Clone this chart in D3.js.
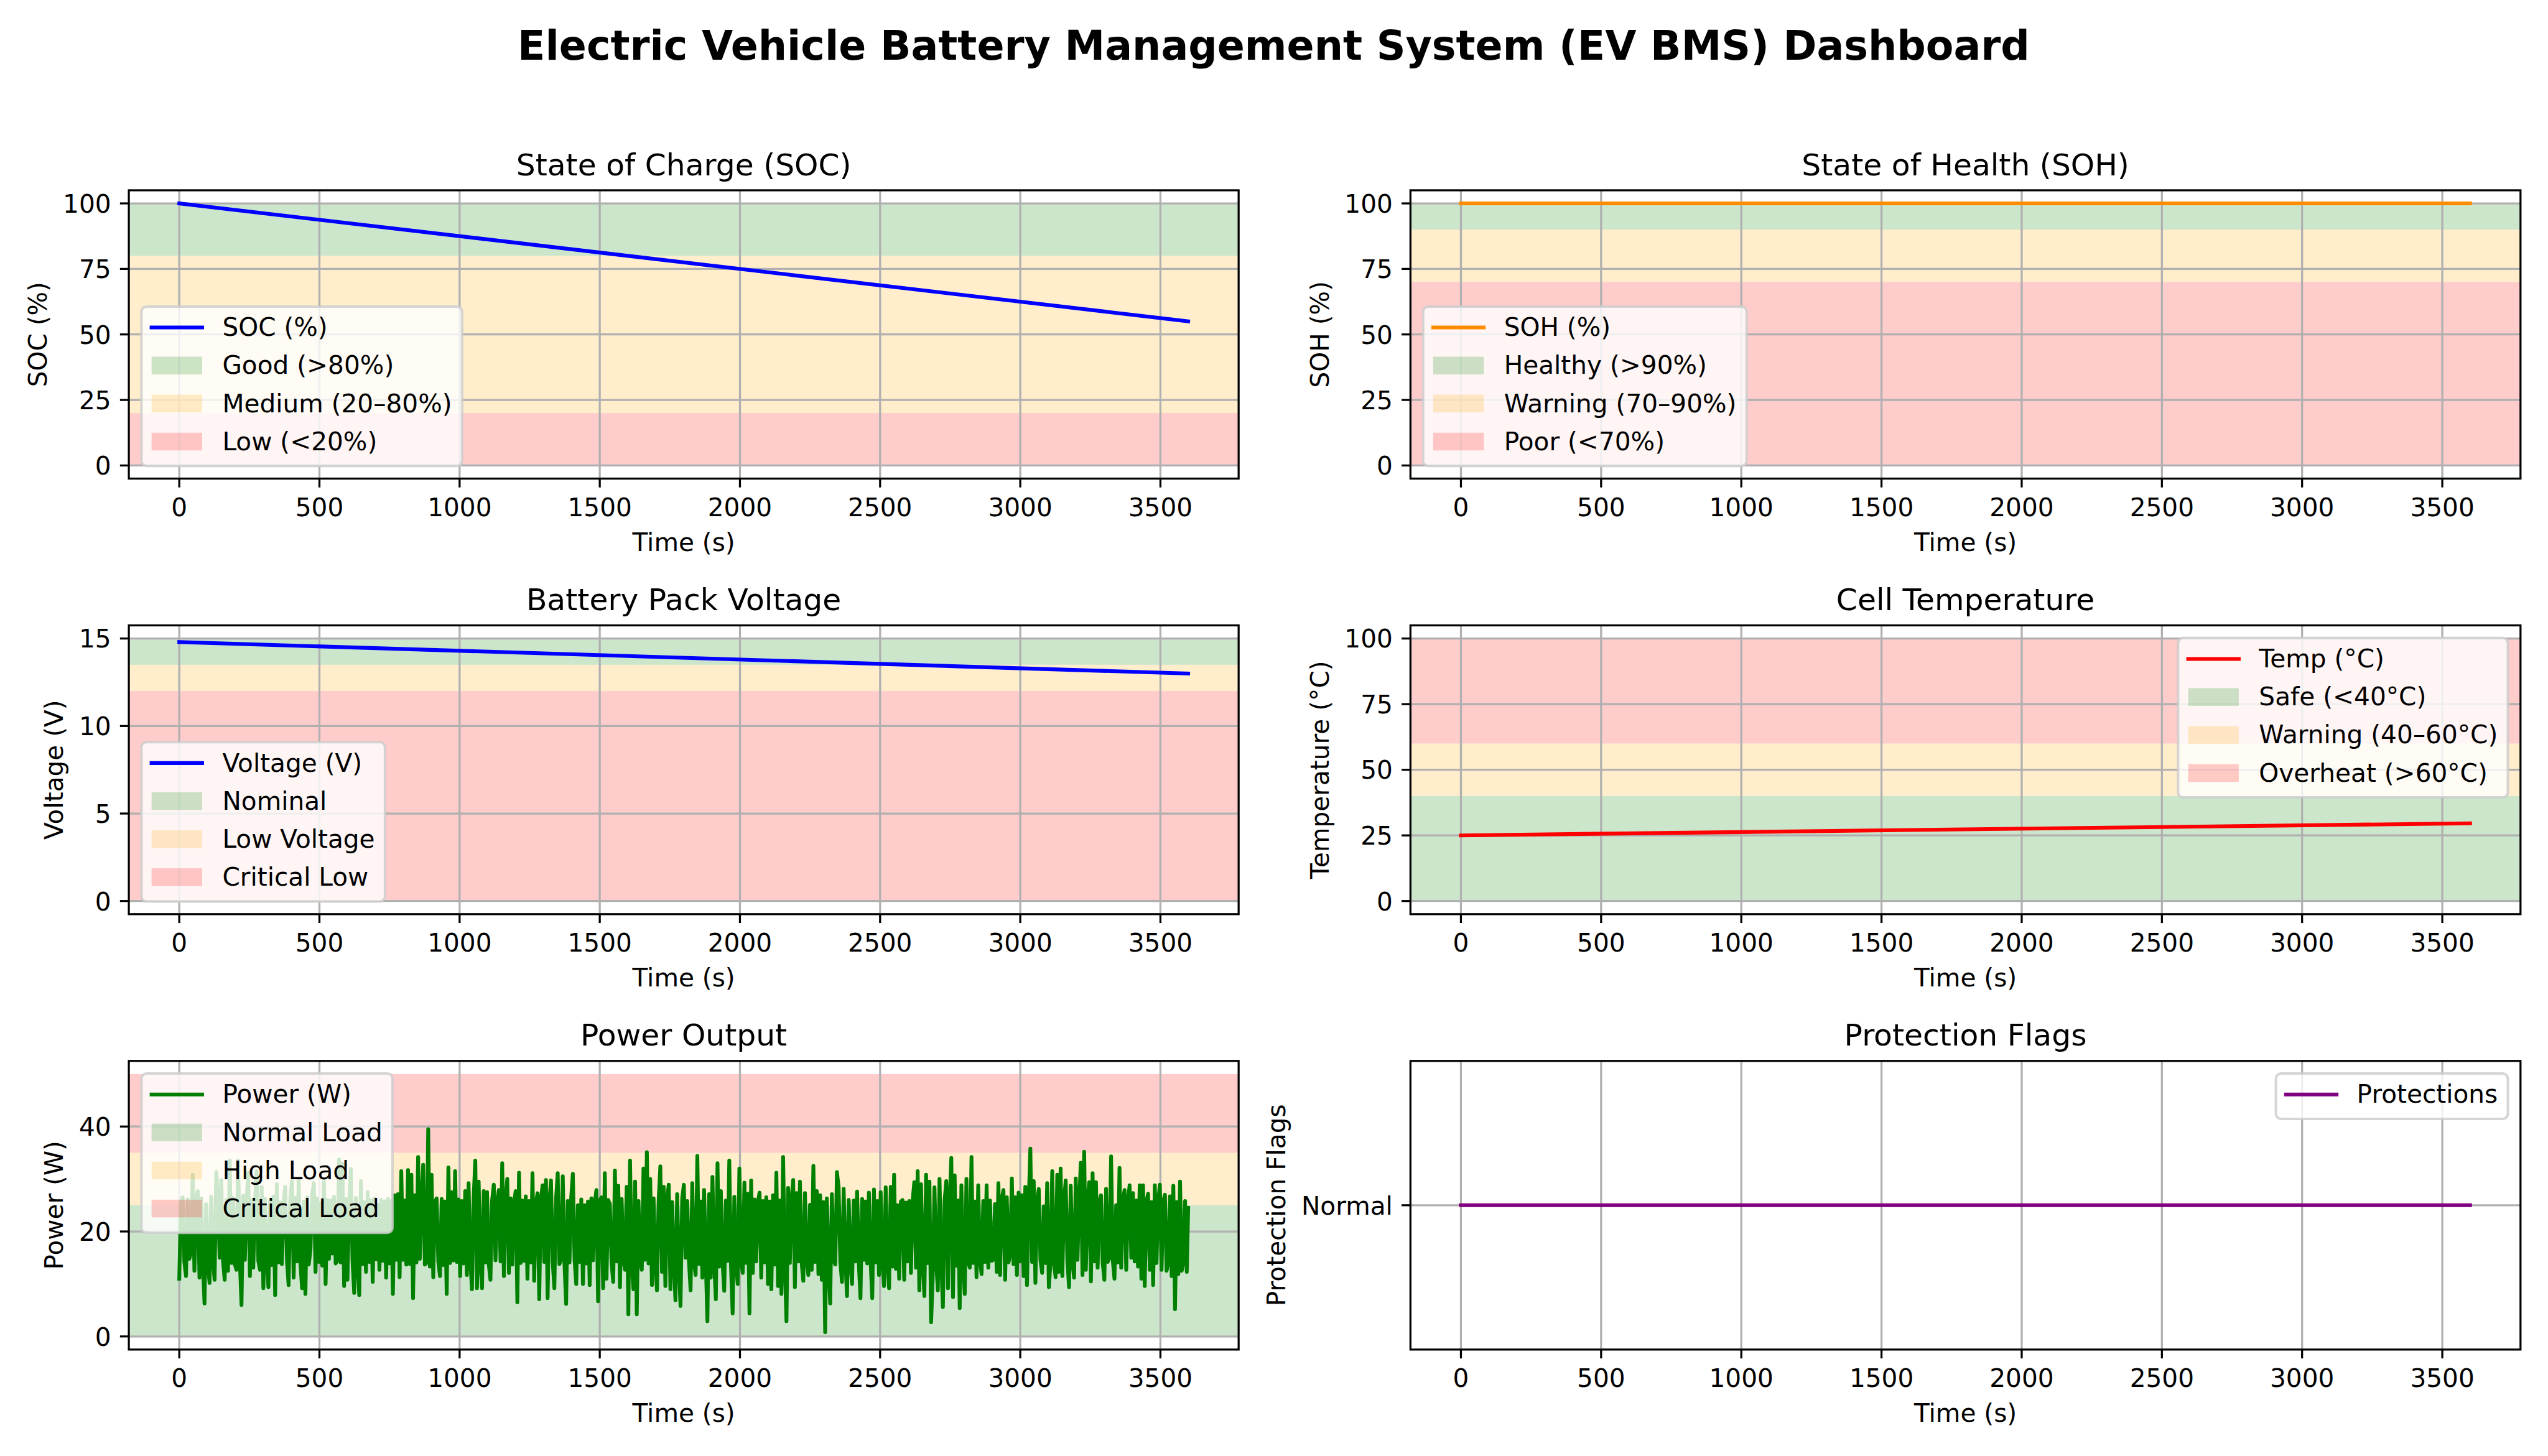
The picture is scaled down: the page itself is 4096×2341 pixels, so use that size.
<!DOCTYPE html>
<html><head><meta charset="utf-8">
<script src="https://cdn.jsdelivr.net/npm/d3@7"></script>
<style>
html,body{margin:0;padding:0;background:#fff;}
svg{display:block;}
text{font-family:"DejaVu Sans",sans-serif;fill:#000;}
</style>
</head><body>
<svg id="chart" width="4096" height="2341"></svg>
<script>
// ---------------- DATA ----------------
const lineTimes = [0, 3599];
const xTickValues = [0, 500, 1000, 1500, 2000, 2500, 3000, 3500];

const socValues = [100, 55];
const sohValues = [100, 100];
const voltageValues = [14.8, 13.0];
const tempValues = [25.0, 29.6];
const protectionFlags = ["Normal", "Normal"];
const protectionCategories = ["Normal"];

const percentTicks = [0, 25, 50, 75, 100];
const voltageTicks = [0, 5, 10, 15];
const tempTicks = [0, 25, 50, 75, 100];
const powerTicks = [0, 20, 40];

const socBands = [[80, 100], [20, 80], [0, 20]];
const socBandLabels = ["Good (>80%)", "Medium (20\u201380%)", "Low (<20%)"];
const sohBands = [[90, 100], [70, 90], [0, 70]];
const sohBandLabels = ["Healthy (>90%)", "Warning (70\u201390%)", "Poor (<70%)"];
const voltageBands = [[13.5, 15], [12, 13.5], [0, 12]];
const voltageBandLabels = ["Nominal", "Low Voltage", "Critical Low"];
const tempBands = [[0, 40], [40, 60], [60, 100]];
const tempBandLabels = ["Safe (<40\u00b0C)", "Warning (40\u201360\u00b0C)", "Overheat (>60\u00b0C)"];
const powerBands = [[0, 25], [25, 35], [35, 50]];
const powerBandLabels = ["Normal Load", "High Load", "Critical Load"];

// power readings, one every 6 s (last one at 3599 s)
const powerStep = 6;
const powerWatts = [
11.0,25.4,26.5,14.2,11.5,26.1,14.8,16.0,30.8,12.5,
25.9,27.7,11.2,26.3,14.1,6.3,25.2,13.9,10.2,26.6,
14.6,10.8,31.3,26.2,15.0,29.8,14.3,10.8,26.0,12.5,
33.5,14.0,26.4,13.8,12.7,33.5,14.5,6.0,26.8,14.6,
25.7,31.2,11.5,26.0,13.1,25.6,31.5,14.4,12.7,28.5,
9.2,26.2,14.7,9.4,25.9,13.6,26.7,7.9,29.0,14.1,
25.5,13.8,25.8,28.5,14.6,9.8,26.1,29.6,11.2,26.4,
14.3,29.8,14.0,9.2,25.7,8.1,26.5,13.7,16.5,26.9,
29.2,12.3,26.3,14.2,25.4,13.5,29.4,10.0,26.0,14.8,
25.9,15.8,26.6,13.9,14.4,33.7,14.1,32.9,9.6,26.2,
10.8,25.3,31.9,14.5,8.3,26.4,14.0,7.9,29.6,13.8,
25.6,12.3,27.5,14.2,25.9,10.4,26.3,14.7,25.1,12.7,
26.0,14.4,25.7,11.2,26.2,13.9,25.8,8.1,26.9,14.6,
27.1,11.3,31.5,14.6,25.9,13.7,31.7,13.8,30.8,7.3,
26.9,14.1,34.2,14.8,25.5,32.7,13.7,14.0,39.5,13.3,
30.8,11.3,25.6,26.3,14.3,11.5,26.2,13.6,25.7,8.1,
32.2,14.0,27.5,14.5,31.5,14.2,26.1,11.5,25.8,13.9,
27.7,11.7,29.2,14.6,9.0,26.4,33.5,9.2,29.5,14.2,
9.2,27.7,14.1,27.5,13.8,10.8,26.0,28.9,14.5,25.6,
27.9,14.3,33.0,11.5,26.1,30.0,12.1,26.3,13.7,25.4,
27.7,6.5,31.2,14.0,25.9,14.4,26.7,11.0,25.8,14.1,
31.1,10.6,25.4,27.3,7.1,26.0,28.8,14.2,29.8,7.3,
25.7,29.7,14.3,9.2,26.2,31.1,13.8,14.6,30.5,14.0,
6.2,25.8,14.1,26.4,31.0,14.7,10.0,25.0,14.2,26.1,
10.0,25.0,13.9,25.7,9.8,26.3,14.5,25.4,27.9,6.7,
25.9,26.5,9.2,31.1,11.0,26.0,25.2,14.0,10.4,31.6,
14.3,28.7,9.4,26.2,14.6,12.7,28.5,4.2,33.5,14.1,
9.0,29.5,4.2,25.8,14.4,12.7,32.0,14.6,35.1,13.9,
30.0,9.8,26.3,14.2,8.8,25.9,32.4,12.3,28.5,9.6,
26.0,28.9,9.0,25.6,14.3,6.9,27.1,14.0,5.8,26.3,
28.9,15.0,25.8,14.5,8.8,29.2,14.1,11.7,34.4,13.8,
25.7,11.2,27.9,14.6,2.9,27.1,11.2,30.4,14.2,7.1,
33.0,13.3,27.7,14.0,8.7,25.9,14.4,33.5,13.5,4.4,
26.6,14.2,10.0,32.0,14.6,12.1,29.3,14.0,27.2,4.4,
29.7,12.1,26.1,14.3,25.6,27.4,11.2,25.8,14.1,26.5,
10.0,25.7,9.0,26.9,13.7,31.2,9.6,25.9,8.1,34.2,
14.4,2.9,28.3,14.0,25.8,29.8,9.4,27.3,14.3,29.5,
14.1,10.6,27.3,14.7,11.7,25.1,12.7,32.5,14.2,27.7,
11.9,26.9,10.8,25.6,0.8,26.3,14.0,6.3,27.1,14.5,
13.7,31.3,28.5,14.2,10.4,28.1,14.6,7.7,26.0,14.1,
10.0,25.9,14.3,27.6,14.0,7.3,26.2,14.6,25.7,13.9,
27.4,14.4,7.3,28.0,14.1,25.8,11.7,27.5,14.6,9.6,
28.4,14.2,9.2,28.5,13.3,30.8,12.9,25.0,11.0,25.7,
26.0,10.8,25.5,14.3,25.8,12.1,25.9,29.4,13.1,31.5,
8.8,29.0,14.4,7.7,30.8,14.0,29.5,2.7,11.7,28.4,
14.2,8.8,30.0,14.5,5.6,25.8,29.6,9.2,25.6,34.0,
7.5,30.7,13.5,25.9,5.4,28.8,14.1,8.1,30.0,14.3,
13.1,34.2,14.0,25.7,11.3,28.8,14.6,11.9,25.8,14.2,
28.8,13.1,25.9,14.4,14.6,25.2,12.3,29.2,11.7,26.2,
27.9,10.8,26.5,14.1,15.6,30.1,13.8,26.5,11.7,27.4,
14.3,26.9,11.5,28.5,9.8,25.7,35.8,14.2,29.6,10.2,
25.8,28.1,14.5,12.1,24.8,14.0,29.2,9.4,14.0,31.5,
14.2,11.3,30.8,12.3,32.0,11.5,25.9,29.7,14.4,9.4,
28.7,14.1,11.2,30.1,14.6,25.6,33.1,11.7,35.2,12.7,
25.8,29.4,10.5,31.1,14.3,29.4,13.1,25.7,26.9,14.0,
10.8,28.1,14.2,15.0,34.3,14.5,11.0,25.0,14.1,32.1,
13.1,25.8,27.9,12.7,25.6,28.8,15.0,27.3,14.3,25.9,
13.3,28.8,11.0,28.8,9.6,25.7,27.2,12.7,25.6,9.8,
28.8,14.0,25.9,28.9,12.7,25.8,27.0,12.5,14.3,26.7,
11.5,28.7,5.2,25.6,11.9,29.5,12.5,14.2,25.8,12.3,
24.5
];
const powerTimes = powerWatts.map((_, i) => Math.min(i * powerStep, lineTimes[1]));

// ---------------- LAYOUT (reference pixel units, scaled by 0.975) ----------------
const S = 0.975;
const FS = 41.67;          // 10 pt at 300 dpi
const LW = 3.33;           // 0.8 pt
const DATA_LW = 6.25;      // 1.5 pt
const bandColors = ["#008000", "#ffa500", "#ff0000"];
const cols = [[212.4, 2042.2], [2325.5, 4155.7]];
const rows = [[313.8, 789.2], [1031.3, 1507.5], [1749.5, 2225.5]];

const svg = d3.select("#chart");
const defs = svg.append("defs");
const root = svg.append("g").attr("transform", `scale(${S})`);

root.append("text")
  .attr("x", 2100).attr("y", 98)
  .attr("text-anchor", "middle")
  .style("font-weight", "bold").style("font-size", "66.67px")
  .text("Electric Vehicle Battery Management System (EV BMS) Dashboard");

const zip = (ts, vs) => ts.map((t, i) => [t, vs[i]]);
const padExtent = ([a, b]) => [a - 0.05 * (b - a), b + 0.05 * (b - a)];

const panels = [
  {row:0, col:0, title:"State of Charge (SOC)", ylabel:"SOC (%)", data:zip(lineTimes, socValues),
   color:"#0000ff", name:"SOC (%)", bands:socBands, bandLabels:socBandLabels, yTicks:percentTicks, legend:"lower left"},
  {row:0, col:1, title:"State of Health (SOH)", ylabel:"SOH (%)", data:zip(lineTimes, sohValues),
   color:"#ff8c00", name:"SOH (%)", bands:sohBands, bandLabels:sohBandLabels, yTicks:percentTicks, legend:"lower left"},
  {row:1, col:0, title:"Battery Pack Voltage", ylabel:"Voltage (V)", data:zip(lineTimes, voltageValues),
   color:"#0000ff", name:"Voltage (V)", bands:voltageBands, bandLabels:voltageBandLabels, yTicks:voltageTicks, legend:"lower left"},
  {row:1, col:1, title:"Cell Temperature", ylabel:"Temperature (\u00b0C)", data:zip(lineTimes, tempValues),
   color:"#ff0000", name:"Temp (\u00b0C)", bands:tempBands, bandLabels:tempBandLabels, yTicks:tempTicks, legend:"upper right"},
  {row:2, col:0, title:"Power Output", ylabel:"Power (W)", data:zip(powerTimes, powerWatts),
   color:"#008000", name:"Power (W)", bands:powerBands, bandLabels:powerBandLabels, yTicks:powerTicks, legend:"upper left"},
  {row:2, col:1, title:"Protection Flags", ylabel:"Protection Flags", data:zip(lineTimes, protectionFlags),
   color:"#800080", name:"Protections", bands:[], bandLabels:[], categorical:true, yTicks:protectionCategories, legend:"upper right"}
];

function measure(g, txt, size) {
  const t = g.append("text").style("font-size", size + "px").text(txt);
  const w = t.node().getComputedTextLength();
  t.remove();
  return w;
}

function drawLegend(g, entries, loc, box) {
  const pad = 0.4 * FS, hl = 2 * FS, htp = 0.8 * FS, bap = 0.5 * FS;
  const lg = g.append("g");
  const maxW = d3.max(entries, e => measure(lg, e.label, FS));
  const w = pad + hl + htp + maxW + pad;
  const topPad = 34.5, pitch = 62.7, botPad = 40.2;
  const h = topPad + (entries.length - 1) * pitch + botPad;
  const x0 = loc.includes("left") ? box.l + bap : box.r - bap - w;
  const y0 = loc.includes("upper") ? box.t + bap : box.b - bap - h;
  lg.append("rect").attr("x", x0).attr("y", y0).attr("width", w).attr("height", h)
    .attr("rx", 0.2 * FS).attr("ry", 0.2 * FS)
    .attr("fill", "#ffffff").attr("fill-opacity", 0.8)
    .attr("stroke", "#cccccc").attr("stroke-opacity", 0.8).attr("stroke-width", 4.17);
  entries.forEach((e, i) => {
    const cy = y0 + topPad + i * pitch;
    const hx = x0 + pad;
    if (e.type === "line") {
      lg.append("line").attr("x1", hx).attr("x2", hx + hl).attr("y1", cy).attr("y2", cy)
        .attr("stroke", e.color).attr("stroke-width", DATA_LW).attr("stroke-linecap", "square");
    } else {
      lg.append("rect").attr("x", hx).attr("y", cy - 0.35 * FS).attr("width", hl).attr("height", 0.7 * FS)
        .attr("fill", e.color).attr("fill-opacity", 0.2);
    }
    lg.append("text").attr("x", hx + hl + htp).attr("y", cy + 14.1)
      .style("font-size", FS + "px").text(e.label);
  });
}

panels.forEach((p, idx) => {
  const [l, r] = cols[p.col];
  const [t, b] = rows[p.row];
  const g = root.append("g");
  const x = d3.scaleLinear().domain(padExtent(d3.extent(lineTimes))).range([l, r]);
  let y;
  if (p.categorical) {
    y = d3.scalePoint().domain(p.yTicks).range([b, t]).padding(0.5);
  } else {
    const ext = d3.extent([...p.bands.flat(), ...p.data.map(d => d[1])]);
    y = d3.scaleLinear().domain(padExtent(ext)).range([b, t]);
  }
  const clipId = "clip" + idx;
  defs.append("clipPath").attr("id", clipId)
    .append("rect").attr("x", l).attr("y", t).attr("width", r - l).attr("height", b - t);
  const plot = g.append("g").attr("clip-path", `url(#${clipId})`);

  // bands
  plot.selectAll("rect.band").data(p.bands).join("rect").attr("class", "band")
    .attr("x", l).attr("width", r - l)
    .attr("y", d => y(d[1])).attr("height", d => y(d[0]) - y(d[1]))
    .attr("fill", (d, i) => bandColors[i]).attr("fill-opacity", 0.2);

  // grid
  plot.selectAll("line.gx").data(xTickValues).join("line").attr("class", "gx")
    .attr("x1", d => x(d)).attr("x2", d => x(d)).attr("y1", t).attr("y2", b)
    .attr("stroke", "#b0b0b0").attr("stroke-width", LW);
  plot.selectAll("line.gy").data(p.yTicks).join("line").attr("class", "gy")
    .attr("x1", l).attr("x2", r).attr("y1", d => y(d)).attr("y2", d => y(d))
    .attr("stroke", "#b0b0b0").attr("stroke-width", LW);

  // data line
  const lineGen = d3.line().x(d => x(d[0])).y(d => y(d[1]));
  plot.append("path").datum(p.data).attr("d", lineGen)
    .attr("fill", "none").attr("stroke", p.color).attr("stroke-width", DATA_LW)
    .attr("stroke-linejoin", "round").attr("stroke-linecap", "square");

  // spines
  g.append("rect").attr("x", l).attr("y", t).attr("width", r - l).attr("height", b - t)
    .attr("fill", "none").attr("stroke", "#000").attr("stroke-width", LW);

  // x ticks
  const tickLen = 14.6;
  xTickValues.forEach(v => {
    g.append("line").attr("x1", x(v)).attr("x2", x(v)).attr("y1", b).attr("y2", b + tickLen)
      .attr("stroke", "#000").attr("stroke-width", LW);
    g.append("text").attr("x", x(v)).attr("y", b + 61.7).attr("text-anchor", "middle")
      .style("font-size", FS + "px").text(String(v));
  });
  // y ticks
  let maxTW = 0;
  p.yTicks.forEach(v => {
    g.append("line").attr("x1", l - tickLen).attr("x2", l).attr("y1", y(v)).attr("y2", y(v))
      .attr("stroke", "#000").attr("stroke-width", LW);
    const tx = g.append("text").attr("x", l - 29.2).attr("y", y(v) + 0.3645 * FS)
      .attr("text-anchor", "end").style("font-size", FS + "px").text(String(v));
    maxTW = Math.max(maxTW, tx.node().getComputedTextLength());
  });

  // labels
  g.append("text").attr("x", (l + r) / 2).attr("y", b + 119.5).attr("text-anchor", "middle")
    .style("font-size", FS + "px").text("Time (s)");
  const ylx = l - (29.2 + maxTW + 16.7 + 9.8);
  g.append("text").attr("transform", `translate(${ylx},${(t + b) / 2}) rotate(-90)`)
    .attr("text-anchor", "middle").style("font-size", FS + "px").text(p.ylabel);
  g.append("text").attr("x", (l + r) / 2).attr("y", t - 25).attr("text-anchor", "middle")
    .style("font-size", "50px").text(p.title);

  // legend
  const entries = [{type: "line", color: p.color, label: p.name}]
    .concat(p.bandLabels.map((lab, i) => ({type: "patch", color: bandColors[i], label: lab})));
  drawLegend(g, entries, p.legend, {l, r, t, b});
});
</script>
</body></html>
